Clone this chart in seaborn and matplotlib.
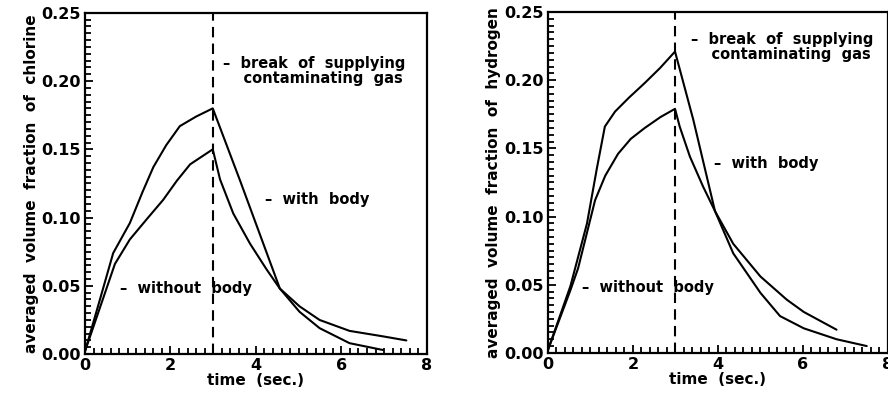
import numpy as np
import pandas as pd
import matplotlib
matplotlib.use('Agg')
import matplotlib.pyplot as plt
import seaborn as sns
from matplotlib.ticker import MultipleLocator, FormatStrFormatter

# chlorine panel - curves
cl_hi_t = [0.0, 0.35, 0.66, 1.05, 1.35, 1.60, 1.90, 2.22, 2.60, 2.99, 3.63, 4.56, 5.02, 5.49, 6.19, 6.97, 7.52]
cl_hi_v = [0.002, 0.040, 0.074, 0.096, 0.119, 0.137, 0.153, 0.167, 0.174, 0.180, 0.127, 0.048, 0.035, 0.025, 0.017, 0.013, 0.010]
cl_lo_t = [0.0, 0.35, 0.70, 1.05, 1.45, 1.83, 2.15, 2.46, 2.70, 2.99, 3.16, 3.47, 3.86, 4.25, 4.56, 5.02, 5.49, 6.19, 6.97]
cl_lo_v = [0.002, 0.034, 0.066, 0.084, 0.099, 0.113, 0.127, 0.139, 0.144, 0.150, 0.128, 0.103, 0.081, 0.062, 0.048, 0.031, 0.019, 0.008, 0.003]

# hydrogen panel
h_hi_t = [0.0, 0.53, 0.92, 1.15, 1.34, 1.58, 1.90, 2.28, 2.64, 2.99, 3.42, 3.93, 4.36, 5.00, 5.46, 6.02, 6.79, 7.50]
h_hi_v = [0.002, 0.049, 0.095, 0.135, 0.166, 0.177, 0.187, 0.198, 0.209, 0.221, 0.171, 0.104, 0.073, 0.044, 0.027, 0.018, 0.010, 0.005]
h_lo_t = [0.0, 0.53, 0.71, 1.11, 1.35, 1.65, 1.95, 2.28, 2.65, 2.99, 3.10, 3.34, 3.65, 3.93, 4.36, 5.00, 5.62, 6.02, 6.79]
h_lo_v = [0.002, 0.046, 0.062, 0.112, 0.130, 0.146, 0.157, 0.165, 0.173, 0.179, 0.166, 0.144, 0.122, 0.104, 0.080, 0.056, 0.039, 0.030, 0.017]

break_time = 3.0
x_ticks = [0, 2, 4, 6, 8]
y_ticks = [0.00, 0.05, 0.10, 0.15, 0.20, 0.25]

sns.set_style("ticks")
plt.rcParams['font.family'] = ['DejaVu Sans']
plt.rcParams['font.weight'] = 'bold'
plt.rcParams['text.color'] = 'black'
plt.rcParams['axes.labelcolor'] = 'black'
plt.rcParams['xtick.color'] = 'black'
plt.rcParams['ytick.color'] = 'black'

fig = plt.figure(figsize=(8.88, 4.01), dpi=100)
ax1 = fig.add_axes([0.0957, 0.117, 0.385, 0.851])
ax2 = fig.add_axes([0.617, 0.120, 0.383, 0.850])


def draw_panel(ax, t_a, v_a, t_b, v_b, gas, notes):
    df = pd.concat([
        pd.DataFrame({'t': t_a, 'v': v_a, 'case': 'a'}),
        pd.DataFrame({'t': t_b, 'v': v_b, 'case': 'b'}),
    ])
    sns.lineplot(data=df, x='t', y='v', units='case', estimator=None,
                 color='black', lw=1.5, sort=False, ax=ax, legend=False)
    ax.axvline(break_time, color='black', lw=1.5, ls=(0, (5, 3)))
    ax.set_xlim(0, 8)
    ax.set_ylim(0, 0.25)
    ax.set_xticks(x_ticks)
    ax.set_yticks(y_ticks)
    ax.yaxis.set_major_formatter(FormatStrFormatter('%.2f'))
    ax.xaxis.set_minor_locator(MultipleLocator(0.2))
    ax.yaxis.set_minor_locator(MultipleLocator(0.005))
    ax.tick_params(which='both', direction='in', top=False, right=False,
                   width=1.3, labelsize=11.5, pad=3)
    ax.tick_params(which='major', length=6)
    ax.tick_params(which='minor', length=4)
    for s in ax.spines.values():
        s.set_linewidth(1.6)
        s.set_color('black')
    ax.set_xlabel('time  (sec.)', fontsize=11, fontweight='bold', labelpad=0)
    ax.set_ylabel('averaged  volume  fraction  of  ' + gas, fontsize=11,
                  fontweight='bold', labelpad=2)
    for x, y, txt in notes:
        ax.text(x, y, txt, fontsize=10.5, fontweight='bold', va='center',
                ha='left', linespacing=1.0)


draw_panel(ax1, cl_hi_t, cl_hi_v, cl_lo_t, cl_lo_v, 'chlorine', [
    (3.22, 0.2075, '\u2013  break  of  supplying\n    contaminating  gas'),
    (4.21, 0.113, '\u2013  with  body'),
    (0.82, 0.048, '\u2013  without  body'),
])
draw_panel(ax2, h_hi_t, h_hi_v, h_lo_t, h_lo_v, 'hydrogen', [
    (3.36, 0.2245, '\u2013  break  of  supplying\n    contaminating  gas'),
    (3.9, 0.139, '\u2013  with  body'),
    (0.8, 0.048, '\u2013  without  body'),
])

fig.savefig('out.png', dpi=100)
